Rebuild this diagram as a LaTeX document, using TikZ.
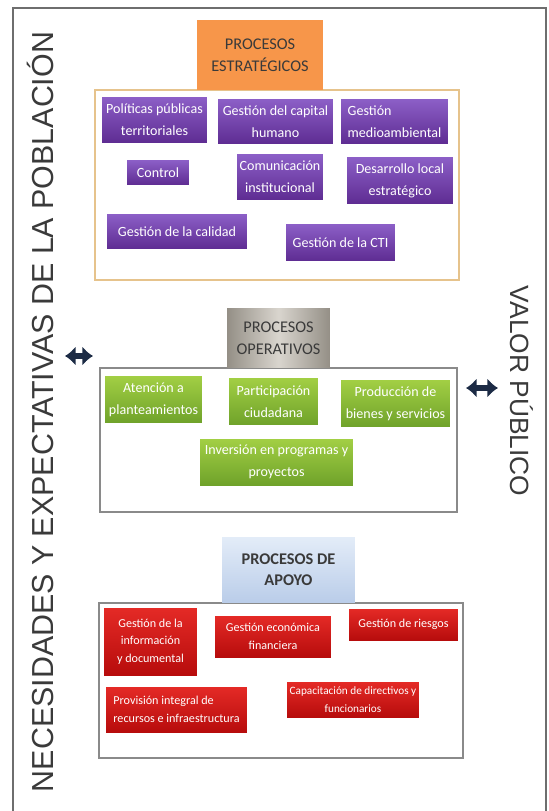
\documentclass[tikz,border=0pt]{standalone}
\usepackage{fontspec}
\setmainfont{Carlito}
\newfontfamily\capsfont{Liberation Sans}
\usetikzlibrary{arrows.meta}

\definecolor{orangeH}{HTML}{F7964A}
\definecolor{tanline}{HTML}{E6C38C}
\definecolor{frameline}{HTML}{8A8A8A}
\definecolor{violetL}{HTML}{8C5FC7}
\definecolor{violetD}{HTML}{5E2C92}
\definecolor{greenL}{HTML}{A2CF44}
\definecolor{greenD}{HTML}{6FA22A}
\definecolor{redL}{HTML}{E42A26}
\definecolor{redD}{HTML}{B70C0C}
\definecolor{greyL}{HTML}{D9D5CE}
\definecolor{greyD}{HTML}{948F86}
\definecolor{blueL}{HTML}{E3ECF8}
\definecolor{blueD}{HTML}{BACDE9}
\definecolor{textdark}{HTML}{3A3A3A}
\definecolor{arrowblue}{HTML}{1C2B45}

\begin{document}
\begin{tikzpicture}[x=0.02cm,y=-0.02cm,
    headbox/.style={inner sep=1pt, align=center, text=textdark,
      font=\fontsize{9.3}{12.5}\selectfont},
    procbox/.style={inner sep=1pt, align=center, text=white,
      font=\fontsize{8}{12.5}\selectfont},
    dblarrow/.style={{Latex[length=6pt,width=11pt]}-{Latex[length=6pt,width=11pt]},
      line width=3.8pt, arrowblue}]

  \useasboundingbox (0,0) rectangle (548,811);

  % outer frame and side texts
  \draw[frameline!80!black, line width=0.9pt] (13,811) -- (13,8) -- (546,8) -- (546,811);
  \node[rotate=90, text=textdark, font=\capsfont\fontsize{17.3}{20}\selectfont] (needs) at (40,412)
    {NECESIDADES Y EXPECTATIVAS DE LA POBLACIÓN};
  \node[rotate=-90, text=textdark, font=\capsfont\fontsize{15}{18}\selectfont] (value) at (522,391)
    {VALOR PÚBLICO};

  % frames
  \draw[tanline, line width=1pt] (95,90) rectangle (459,280);
  \draw[frameline, line width=1pt] (100,368) rectangle (457,512);
  \draw[frameline, line width=1pt] (99,603) rectangle (463,758);

  % headers
  \node[headbox, fill=orangeH, minimum width=2.52cm, minimum height=1.4cm] (strat) at (260,55)
    {PROCESOS\\ESTRATÉGICOS};
  \node[headbox, left color=greyD, right color=greyD, middle color=greyL,
    minimum width=2.06cm, minimum height=1.2cm] (oper) at (278.5,338)
    {PROCESOS\\OPERATIVOS};
  \node[headbox, top color=blueL, bottom color=blueD, font=\bfseries\fontsize{9.3}{12}\selectfont,
    minimum width=2.66cm, minimum height=1.3cm] (supp) at (288.5,569.5)
    {PROCESOS DE\\APOYO};

  % estrategicos
  \begin{scope}[every node/.style={procbox, top color=violetL, bottom color=violetD}]
    \node[minimum width=2.1cm,  minimum height=0.92cm] (e1) at (154.5,120)   {Políticas públicas\\territoriales};
    \node[minimum width=2.3cm,  minimum height=0.9cm]  (e2) at (275.5,121.5) {Gestión del capital\\humano};
    \node[minimum width=2.14cm, minimum height=0.9cm, align=left] (e3) at (394.5,121.5) {Gestión\\medioambiental};
    \node[minimum width=1.24cm, minimum height=0.5cm]  (e4) at (158,172.5)   {Control};
    \node[minimum width=1.72cm, minimum height=0.92cm] (e5) at (280,177)     {Comunicación\\institucional};
    \node[minimum width=2.12cm, minimum height=0.94cm] (e6) at (400,180.5)   {Desarrollo local\\estratégico};
    \node[minimum width=2.8cm,  minimum height=0.7cm]  (e7) at (177,231.5)   {Gestión de la calidad};
    \node[minimum width=2.18cm, minimum height=0.74cm] (e8) at (340.5,242.5) {Gestión de la CTI};
  \end{scope}

  % operativos
  \begin{scope}[every node/.style={procbox, top color=greenL, bottom color=greenD}]
    \node[minimum width=1.94cm, minimum height=0.94cm] (o1) at (153.5,399.5) {Atención a\\planteamientos};
    \node[minimum width=1.78cm, minimum height=0.94cm] (o2) at (273.5,401.5) {Participación\\ciudadana};
    \node[minimum width=2.18cm, minimum height=0.94cm] (o3) at (395.5,403.5) {Producción de\\bienes y servicios};
    \node[minimum width=3.06cm, minimum height=0.92cm] (o4) at (276.5,462)   {Inversión en programas y\\proyectos};
  \end{scope}

  % apoyo
  \begin{scope}[every node/.style={procbox, top color=redL, bottom color=redD,
      font=\fontsize{6.9}{10}\selectfont}]
    \node[minimum width=1.86cm, minimum height=1.34cm] (a1) at (150.5,641.5) {Gestión de la\\información\\y documental};
    \node[minimum width=2.32cm, minimum height=0.82cm] (a2) at (273,636.5)   {Gestión económica\\financiera};
    \node[minimum width=2.18cm, minimum height=0.62cm] (a3) at (403.5,624.5) {Gestión de riesgos};
    \node[minimum width=2.82cm, minimum height=0.9cm, align=left] (a4) at (176.5,709.5) {Provisión integral de\\recursos e infraestructura};
    \node[minimum width=2.64cm, minimum height=0.7cm, font=\fontsize{6.4}{10}\selectfont] (a5) at (353,699.5) {Capacitación de directivos y\\funcionarios};
  \end{scope}

  % flechas
  \coordinate (l1) at (65,356);
  \coordinate (l2) at (93,356);
  \coordinate (r1) at (466,388);
  \coordinate (r2) at (498,388);
  \draw[dblarrow] (l1) -- (l2);
  \draw[dblarrow] (r1) -- (r2);

\end{tikzpicture}
\end{document}
